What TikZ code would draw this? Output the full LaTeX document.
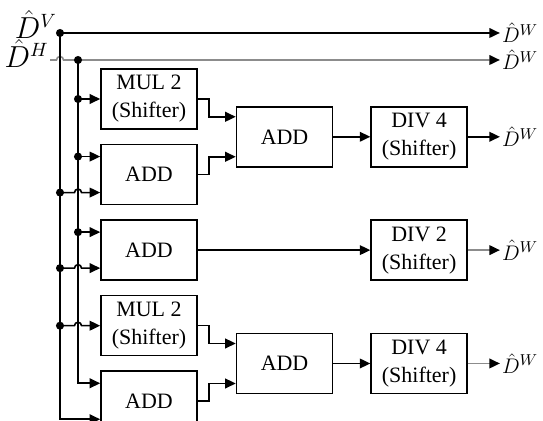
\documentclass[tikz,border=0pt]{standalone}
\usepackage{fontspec}
\setmainfont{Liberation Serif}
\usetikzlibrary{arrows.meta, positioning, calc}

\begin{document}
\begin{tikzpicture}[
    x=0.02cm, y=-0.02cm,
    font=\fontsize{12.5}{16}\selectfont,
    box/.style={rectangle, draw, line width=0.9pt, align=center, minimum width=1.92cm, minimum height=1.2cm, inner sep=1pt},
    wire/.style={line width=0.9pt},
    arrow/.style={wire, -{Triangle[length=6pt,width=5.5pt]}},
    grayarrow/.style={wire, draw=black!45, -{Triangle[length=6pt,width=5.5pt,color=black]}},
    inlbl/.style={anchor=base east, inner sep=0pt, font=\fontsize{16}{18}\selectfont},
    outlbl/.style={anchor=west, inner sep=1pt}
]
\useasboundingbox (0,0) rectangle (543,421);
\clip (0,0) rectangle (543,421);

% Inputs
\coordinate (vtop) at (60,33);
\coordinate (htop) at (78,60);
\coordinate (hin) at (50,60);
\node[inlbl] (dv) at (57,39) {$\hat{D}^{V}$};
\node[inlbl] (dh) at (49,68) {$\hat{D}^{H}$};

% First stage
\node[box] (mul1) at (149,99) {MUL 2\\(Shifter)};
\node[box, below=0.28cm of mul1] (addA) {ADD};
\node[box, below=0.28cm of addA] (addB) {ADD};
\node[box, below=0.28cm of addB] (mul2) {MUL 2\\(Shifter)};
\node[box, below=0.28cm of mul2] (addC) {ADD};

% Second stage
\coordinate (gap1) at ($(mul1.south east)!0.5!(addA.north east)$);
\coordinate (gap2) at ($(mul2.south east)!0.5!(addC.north east)$);
\node[box, right=0.76cm of gap1] (sum1) {ADD};
\node[box, right=0.74cm of sum1] (div4a) {DIV 4\\(Shifter)};
\node[box] (div2) at (div4a |- addB) {DIV 2\\(Shifter)};
\node[box, right=0.76cm of gap2] (sum2) {ADD};
\node[box, right=0.74cm of sum2] (div4b) {DIV 4\\(Shifter)};

% Outputs
\node[outlbl, right=0.64cm of div4a] (outA) {$\hat{D}^{W}$};
\node[outlbl, right=0.64cm of div2] (outB) {$\hat{D}^{W}$};
\node[outlbl, right=0.64cm of div4b] (outC) {$\hat{D}^{W}$};
\node[outlbl] (outV) at (outA.west |- vtop) {$\hat{D}^{W}$};
\node[outlbl] (outH) at (outA.west |- htop) {$\hat{D}^{W}$};

% Ports
\coordinate (addA-in1) at ([yshift=0.36cm]addA.west);
\coordinate (addA-in2) at ([yshift=-0.36cm]addA.west);
\coordinate (addB-in1) at ([yshift=0.36cm]addB.west);
\coordinate (addB-in2) at ([yshift=-0.36cm]addB.west);
\coordinate (addC-in1) at ([yshift=0.36cm]addC.west);
\coordinate (addC-in2) at ([yshift=-0.36cm]addC.west);
\coordinate (sum1-in1) at ([yshift=0.4cm]sum1.west);
\coordinate (sum1-in2) at ([yshift=-0.4cm]sum1.west);
\coordinate (sum2-in1) at ([yshift=0.4cm]sum2.west);
\coordinate (sum2-in2) at ([yshift=-0.4cm]sum2.west);

% Top lines
\draw[arrow] (vtop) -- (outV);
\draw[grayarrow] (hin) -- ++(0.13cm,0) arc[start angle=180, end angle=0, radius=0.07cm] -- (htop) -- (outH);

% Buses
\draw[arrow] (vtop) |- (addC-in2);
\draw[arrow] (htop) |- (addC-in1);
\fill (vtop) circle[radius=2.3pt];
\fill (htop) circle[radius=2.3pt];

% Taps from the H bus
\draw[arrow] (htop |- mul1.west) -- (mul1.west);
\draw[arrow] (htop |- addA-in1) -- (addA-in1);
\draw[arrow] (htop |- addB-in1) -- (addB-in1);
\fill (htop |- mul1.west) circle[radius=2.3pt];
\fill (htop |- addA-in1) circle[radius=2.3pt];
\fill (htop |- addB-in1) circle[radius=2.3pt];

% Taps from the V bus, hopping over the H bus
\draw[arrow] (vtop |- addA-in2) -- ++(0.29cm,0) arc[start angle=180, end angle=0, radius=0.07cm] -- (addA-in2);
\draw[arrow] (vtop |- addB-in2) -- ++(0.29cm,0) arc[start angle=180, end angle=0, radius=0.07cm] -- (addB-in2);
\draw[arrow] (vtop |- mul2.west) -- ++(0.29cm,0) arc[start angle=180, end angle=0, radius=0.07cm] -- (mul2.west);
\fill (vtop |- addA-in2) circle[radius=2.3pt];
\fill (vtop |- addB-in2) circle[radius=2.3pt];
\fill (vtop |- mul2.west) circle[radius=2.3pt];

% Connections
\draw[arrow] (mul1.east) -- ++(0.22cm,0) |- (sum1-in1);
\draw[arrow] (addA.east) -- ++(0.22cm,0) |- (sum1-in2);
\draw[arrow] (mul2.east) -- ++(0.22cm,0) |- (sum2-in1);
\draw[arrow] (addC.east) -- ++(0.22cm,0) |- (sum2-in2);
\draw[arrow] (sum1) -- (div4a);
\draw[arrow] (addB) -- (div2);
\draw[arrow] (sum2) -- (div4b);
\draw[arrow] (div4a) -- (outA);
\draw[grayarrow] (div2) -- (outB);
\draw[grayarrow] (div4b) -- (outC);

\end{tikzpicture}
\end{document}
